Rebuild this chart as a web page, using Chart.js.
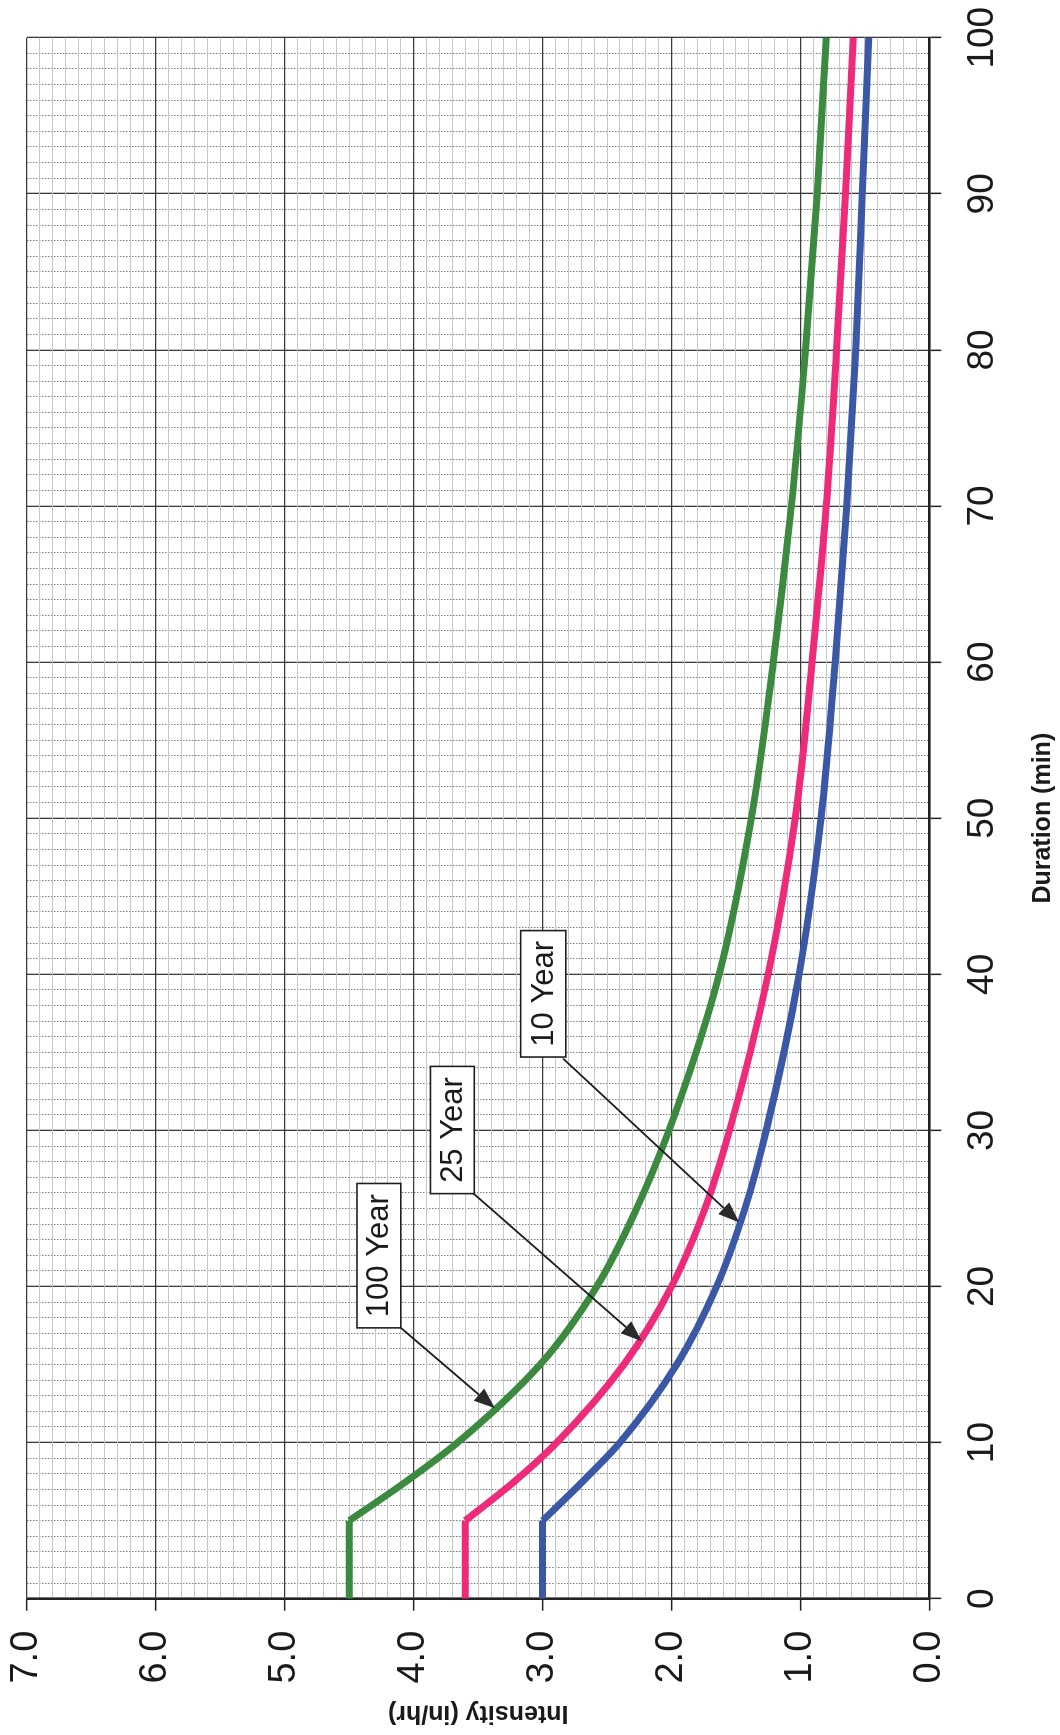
<!DOCTYPE html>
<html><head><meta charset="utf-8">
<script src="https://cdn.jsdelivr.net/npm/chart.js@4.4.0/dist/chart.umd.min.js"></script>
<style>
html,body{margin:0;padding:0;background:#fff;width:1060px;height:1735px;overflow:hidden;}
#wrap{position:absolute;left:0;top:0;width:1735px;height:1060px;transform-origin:0 0;transform:translateY(1735px) rotate(-90deg);background:#fff;}
canvas{display:block;}
</style></head><body>
<div id="wrap"><canvas id="c" width="1735" height="1060"></canvas></div>
<script>
// ---- data ----
const durations      = [0, 5, 7.5, 10, 15, 20, 25, 30, 40, 50, 60, 70, 80, 90, 100];
const intensity100yr = [4.50, 4.50, 4.06, 3.66, 3.02, 2.58, 2.27, 2.02, 1.63, 1.38, 1.21, 1.07, 0.96, 0.87, 0.80];
const intensity25yr  = [3.60, 3.60, 3.22, 2.89, 2.37, 2.00, 1.74, 1.55, 1.25, 1.04, 0.91, 0.80, 0.72, 0.65, 0.59];
const intensity10yr  = [3.00, 3.00, 2.69, 2.40, 1.96, 1.65, 1.43, 1.265, 1.01, 0.84, 0.73, 0.64, 0.57, 0.52, 0.47];
const seriesNames    = ['100 Year', '25 Year', '10 Year'];
const durationTicks  = [0, 10, 20, 30, 40, 50, 60, 70, 80, 90, 100];
const intensityTicks = ['0.0', '1.0', '2.0', '3.0', '4.0', '5.0', '6.0', '7.0'];
const xTitle = 'Duration (min)';
const yTitle = 'Intensity (in/hr)';

// callout placement (data units: duration, intensity)
const calloutBoxes = [
  {d0: 17.35, d1: 26.6, i0: 4.10, i1: 4.44, fromD: 17.35, fromI: 4.10, toD: 12.2, toI: 3.37},
  {d0: 25.95, d1: 34.1, i0: 3.53, i1: 3.87, fromD: 25.95, fromI: 3.535, toD: 16.5, toI: 2.23},
  {d0: 34.7,  d1: 42.8, i0: 2.82, i1: 3.17, fromD: 34.6, fromI: 2.84, toD: 24.1, toI: 1.475}
];

const colors = ['#3c8a40', '#ee2a7b', '#3a58a6'];
const seriesValues = [intensity100yr, intensity25yr, intensity10yr];

const datasets = [];
seriesValues.forEach((vals, s) => {
  const pts = durations.map((d, i) => ({x: d, y: vals[i]}));
  datasets.push({label: seriesNames[s] + ' cap', data: pts.slice(0, 2), borderColor: colors[s],
    borderWidth: 7, pointRadius: 0, tension: 0, fill: false});
  datasets.push({label: seriesNames[s], data: pts.slice(1), borderColor: colors[s],
    borderWidth: 7, pointRadius: 0, cubicInterpolationMode: 'monotone', fill: false, borderJoinStyle: 'round'});
});

const isMajorX = v => Math.abs(v - Math.round(v)) < 1e-6 && durationTicks.includes(Math.round(v));
const isMajorY = v => intensityTicks.map(Number).some(t => Math.abs(t - v) < 1e-6);

const calloutPlugin = {
  id: 'callouts',
  afterDatasetsDraw(chart) {
    const {ctx, scales: {x, y}} = chart;
    ctx.save();
    seriesNames.forEach((text, i) => {
      const b = calloutBoxes[i];
      const sx = x.getPixelForValue(b.fromD), sy = y.getPixelForValue(b.fromI);
      const ex = x.getPixelForValue(b.toD), ey = y.getPixelForValue(b.toI);
      const ang = Math.atan2(ey - sy, ex - sx);
      const hl = 21, hw = 8;
      const bx = ex - hl * Math.cos(ang), by = ey - hl * Math.sin(ang);
      ctx.strokeStyle = '#1e1e1e';
      ctx.lineWidth = 1.8;
      ctx.beginPath(); ctx.moveTo(sx, sy); ctx.lineTo(bx, by); ctx.stroke();
      ctx.fillStyle = '#2a2a2a';
      ctx.beginPath();
      ctx.moveTo(ex, ey);
      ctx.lineTo(bx + hw * Math.sin(ang), by - hw * Math.cos(ang));
      ctx.lineTo(bx - hw * Math.sin(ang), by + hw * Math.cos(ang));
      ctx.closePath(); ctx.fill();
      const x0 = x.getPixelForValue(b.d0), x1 = x.getPixelForValue(b.d1);
      const y0 = y.getPixelForValue(b.i1), y1 = y.getPixelForValue(b.i0);
      ctx.fillStyle = '#fff';
      ctx.fillRect(x0, y0, x1 - x0, y1 - y0);
      ctx.lineWidth = 1.6;
      ctx.strokeStyle = '#1e1e1e';
      ctx.strokeRect(x0, y0, x1 - x0, y1 - y0);
      ctx.fillStyle = '#1a1a1a';
      ctx.font = '31px "Liberation Sans", Arial, sans-serif';
      ctx.textAlign = 'center';
      ctx.textBaseline = 'middle';
      ctx.fillText(text, (x0 + x1) / 2, (y0 + y1) / 2 + 1);
    });
    ctx.restore();
  }
};

new Chart(document.getElementById('c'), {
  type: 'line',
  data: {datasets},
  plugins: [calloutPlugin],
  options: {
    responsive: false,
    animation: false,
    devicePixelRatio: 1,
    layout: {padding: {left: 0, top: 27, right: 37.7, bottom: 0}},
    plugins: {legend: {display: false}, tooltip: {enabled: false}},
    scales: {
      x: {
        type: 'linear', min: 0, max: 100,
        afterFit: s => { s.height = 130.7; s.paddingLeft = 0; s.paddingRight = 0; },
        ticks: {
          stepSize: 1, autoSkip: false, maxRotation: 0, minRotation: 0, padding: 19,
          color: '#1a1a1a', font: {family: '"Liberation Sans", Arial, sans-serif', size: 37},
          callback: v => isMajorX(v) ? String(Math.round(v)) : ''
        },
        grid: {
          color: c => (c.tick && isMajorX(c.tick.value)) ? '#3a3a3a' : '#6e6e6e',
          lineWidth: c => (c.tick && isMajorX(c.tick.value)) ? 1.3 : 0.9,
          tickColor: c => (c.tick && isMajorX(c.tick.value)) ? '#222' : 'rgba(0,0,0,0)',
          tickLength: 12, tickWidth: 1.5
        },
        border: {color: '#222', width: 2.5,
          dash: c => (c.tick && !isMajorX(c.tick.value)) ? [1.5, 1.5] : []},
        title: {display: true, text: xTitle, color: '#1a1a1a',
          font: {family: '"Liberation Sans", Arial, sans-serif', size: 25, weight: 'bold'},
          padding: {top: 0, bottom: 2}}
      },
      y: {
        type: 'linear', min: 0, max: 7,
        afterFit: s => { s.width = 136.3; s.paddingTop = 0; s.paddingBottom = 0; },
        ticks: {
          stepSize: 0.1, autoSkip: false, padding: 20,
          color: '#1a1a1a', font: {family: '"Liberation Sans", Arial, sans-serif', size: 38},
          callback: v => isMajorY(v) ? Number(v).toFixed(1) : ''
        },
        grid: {
          color: c => (c.tick && isMajorY(c.tick.value)) ? '#3a3a3a' : '#c6c6c6',
          lineWidth: c => (c.tick && isMajorY(c.tick.value)) ? 1.3 : 1,
          tickColor: c => (c.tick && isMajorY(c.tick.value)) ? '#222' : 'rgba(0,0,0,0)',
          tickLength: 12, tickWidth: 1.5
        },
        border: {color: '#222', width: 2.5},
        title: {display: true, text: yTitle, color: '#1a1a1a',
          font: {family: '"Liberation Sans", Arial, sans-serif', size: 25, weight: 'bold'},
          padding: {top: 7, bottom: 0}}
      }
    }
  }
});
</script>
</body></html>
